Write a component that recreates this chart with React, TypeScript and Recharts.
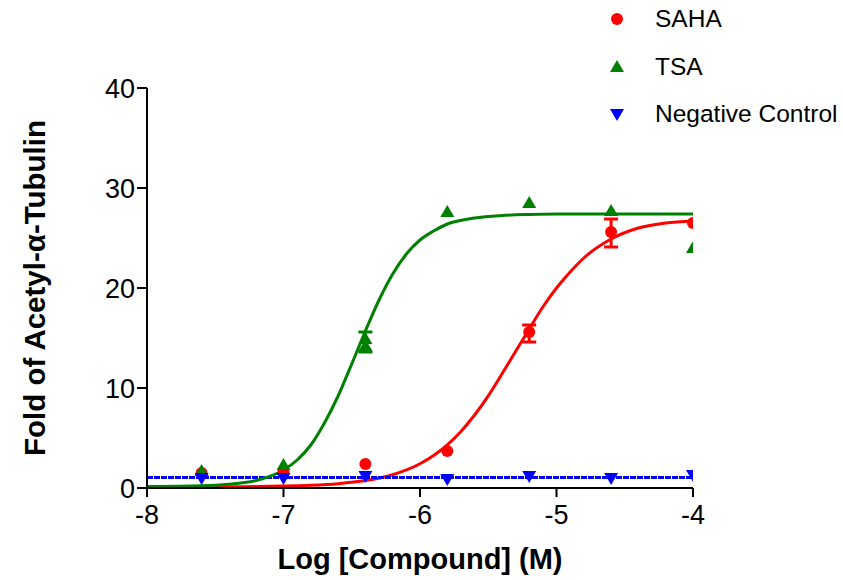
import React from "react";
import {
  ComposedChart,
  Line,
  Scatter,
  XAxis,
  YAxis,
  ErrorBar,
  Legend,
} from "recharts";

// Dose points, log10 M
const doseX = [-7.6, -7.0, -6.4, -5.8, -5.2, -4.6, -4.0];

// measured fold of acetyl-alpha-tubulin
const sahaY = [1.5, 1.6, 2.4, 3.7, 15.6, 25.6, 26.5];
const tsaY = [1.7, 2.3, 14.2, 27.6, 28.5, 27.7, 24.0];
const negY = [1.0, 1.0, 1.2, 0.9, 1.2, 1.0, 1.3];

// second TSA replicate visible at -6.4
const tsaRepX = [-6.4];
const tsaRepY = [14.9];

// mean +/- SEM bars
const sahaErrX = [-5.2, -4.6];
const sahaErrMean = [15.45, 25.5];
const sahaErrSem = [0.85, 1.4];
const tsaErrX = [-6.4];
const tsaErrMean = [14.6];
const tsaErrSem = [1.0];

// fitted curves
const tsaCurveX = [-8.0, -7.6, -7.4, -7.2, -7.0, -6.9, -6.8, -6.7, -6.6, -6.5, -6.4, -6.3, -6.2, -6.1, -6.0, -5.9, -5.8, -5.6, -5.4, -5.2, -5.0, -4.5, -4.0];
const tsaCurveY = [0.15, 0.22, 0.38, 0.75, 1.8, 2.8, 4.3, 6.5, 9.2, 12.4, 15.7, 18.8, 21.4, 23.4, 24.8, 25.7, 26.4, 27.0, 27.25, 27.35, 27.4, 27.4, 27.4];

const sahaCurveX = [-8.0, -7.5, -7.0, -6.8, -6.6, -6.4, -6.2, -6.0, -5.9, -5.8, -5.7, -5.6, -5.5, -5.4, -5.3, -5.2, -5.1, -5.0, -4.9, -4.8, -4.6, -4.4, -4.2, -4.0];
const sahaCurveY = [0.1, 0.12, 0.19, 0.27, 0.43, 0.74, 1.33, 2.42, 3.24, 4.31, 5.66, 7.3, 9.22, 11.4, 13.65, 15.9, 18.1, 20.0, 21.6, 23.0, 24.9, 26.0, 26.5, 26.7];

const negLineX = [-8, -4];
const negLineY = [1.05, 1.05];

const xTicks = [-8, -7, -6, -5, -4];
const yTicks = [0, 10, 20, 30, 40];

const legendNames = ["SAHA", "TSA", "Negative Control"];
const legendColors = ["#ff0000", "#008000", "#0000ff"];
const legendShapes = ["circle", "up", "down"];

const RED = "#ff0000";
const GREEN = "#008000";
const BLUE = "#0000ff";
const FONT = "'Liberation Sans', Arial, sans-serif";

const toPoints = (xs: number[], ys: number[]) => xs.map((x, i) => ({ x, y: ys[i] }));

const sahaPts = toPoints(doseX, sahaY);
const tsaPts = [...toPoints(doseX, tsaY), ...toPoints(tsaRepX, tsaRepY)];
const negPts = toPoints(doseX, negY);
const sahaErr = sahaErrX.map((x, i) => ({ x, y: sahaErrMean[i], err: sahaErrSem[i] }));
const tsaErr = tsaErrX.map((x, i) => ({ x, y: tsaErrMean[i], err: tsaErrSem[i] }));

const Marker = ({ kind, color, cx, cy }: { kind: string; color: string; cx: number; cy: number }) => {
  if (kind === "circle") return <circle cx={cx} cy={cy} r={6} fill={color} />;
  if (kind === "up")
    return <polygon points={`${cx},${cy - 7} ${cx - 7},${cy + 5} ${cx + 7},${cy + 5}`} fill={color} />;
  return <polygon points={`${cx - 7},${cy - 5} ${cx + 7},${cy - 5} ${cx},${cy + 7}`} fill={color} />;
};

const shapeFor = (kind: string, color: string) => (props: any) =>
  <Marker kind={kind} color={color} cx={props.cx} cy={props.cy} />;

const LegendBox = () => (
  <div style={{ position: "relative", width: 243, height: 140, fontFamily: FONT }}>
    {legendNames.map((name, i) => (
      <div
        key={name}
        style={{
          position: "absolute",
          left: 0,
          top: 19 + i * 47.5 - 15,
          height: 30,
          display: "flex",
          alignItems: "center",
        }}
      >
        <svg width={34} height={30}>
          <Marker kind={legendShapes[i]} color={legendColors[i]} cx={17} cy={15} />
        </svg>
        <span style={{ marginLeft: 21, fontSize: 24.5, color: "#000", whiteSpace: "nowrap" }}>{name}</span>
      </div>
    ))}
  </div>
);

export default function App() {
  return (
    <div style={{ position: "absolute", left: 0, top: 0, width: 843, height: 580, background: "#fff" }}>
      <ComposedChart
        width={843}
        height={580}
        margin={{ top: 88, right: 150, left: 7, bottom: 0 }}
        style={{ fontFamily: FONT }}
      >
        <XAxis
          type="number"
          dataKey="x"
          domain={[-8, -4]}
          ticks={xTicks}
          allowDataOverflow
          height={92}
          stroke="#000"
          strokeWidth={2}
          tickSize={9}
          tickMargin={8}
          tick={{ fill: "#000", fontSize: 27 }}
          label={{
            value: "Log [Compound] (M)",
            position: "insideBottom",
            offset: 11,
            style: { fill: "#000", fontSize: 29, fontWeight: "bold" },
          }}
        />
        <YAxis
          type="number"
          dataKey="y"
          domain={[0, 40]}
          ticks={yTicks}
          allowDataOverflow
          width={140}
          stroke="#000"
          strokeWidth={2}
          tickSize={10}
          tickMargin={2}
          tick={{ fill: "#000", fontSize: 27 }}
          label={{
            value: "Fold of Acetyl-α-Tubulin",
            angle: -90,
            position: "insideLeft",
            offset: 28,
            style: { fill: "#000", fontSize: 29.5, fontWeight: "bold", textAnchor: "middle" },
          }}
        />
        <Legend
          layout="vertical"
          align="center"
          verticalAlign="middle"
          wrapperStyle={{ left: 600, top: 0, width: 243 }}
          content={() => <LegendBox />}
        />

        <Line
          data={toPoints(sahaCurveX, sahaCurveY)}
          dataKey="y"
          type="monotone"
          stroke={RED}
          strokeWidth={3}
          dot={false}
          isAnimationActive={false}
          legendType="none"
        />
        <Line
          data={toPoints(negLineX, negLineY)}
          dataKey="y"
          type="linear"
          stroke={BLUE}
          strokeWidth={3}
          strokeDasharray="6 1"
          dot={false}
          isAnimationActive={false}
          legendType="none"
        />
        <Line
          data={toPoints(tsaCurveX, tsaCurveY)}
          dataKey="y"
          type="monotone"
          stroke={GREEN}
          strokeWidth={3}
          dot={false}
          isAnimationActive={false}
          legendType="none"
        />

        <Scatter
          data={sahaErr}
          dataKey="y"
          shape={() => <g />}
          isAnimationActive={false}
          legendType="none"
        >
          <ErrorBar dataKey="err" direction="y" width={7} stroke={RED} strokeWidth={3} />
        </Scatter>
        <Scatter
          data={tsaErr}
          dataKey="y"
          shape={() => <g />}
          isAnimationActive={false}
          legendType="none"
        >
          <ErrorBar dataKey="err" direction="y" width={7} stroke={GREEN} strokeWidth={3} />
        </Scatter>

        <Scatter data={sahaPts} dataKey="y" shape={shapeFor("circle", RED)} isAnimationActive={false} legendType="none" />
        <Scatter data={tsaPts} dataKey="y" shape={shapeFor("up", GREEN)} isAnimationActive={false} legendType="none" />
        <Scatter data={negPts} dataKey="y" shape={shapeFor("down", BLUE)} isAnimationActive={false} legendType="none" />
      </ComposedChart>
    </div>
  );
}
